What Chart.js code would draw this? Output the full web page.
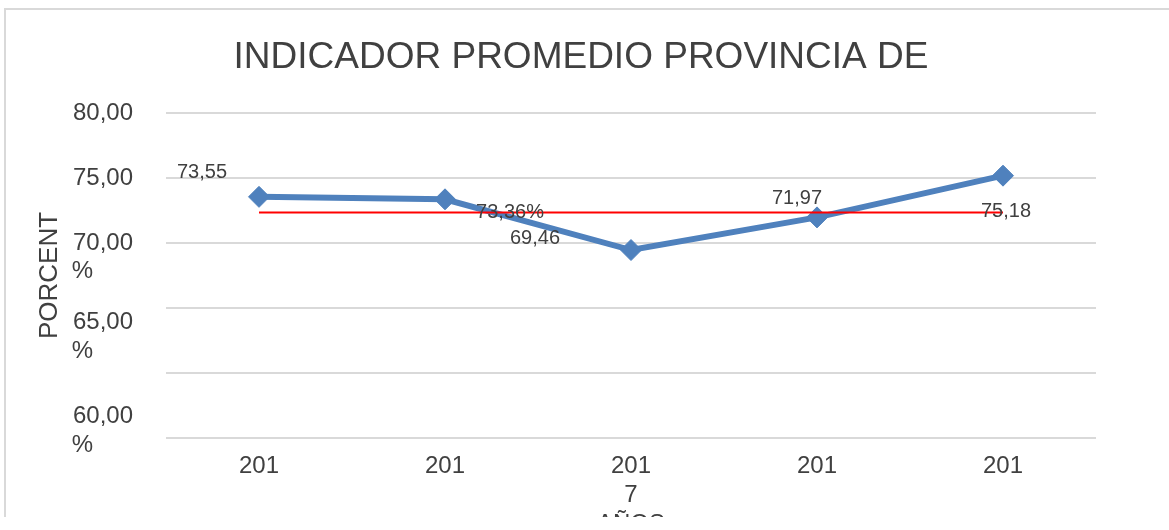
<!DOCTYPE html>
<html>
<head>
<meta charset="utf-8">
<script src="https://cdn.jsdelivr.net/npm/chart.js@4/dist/chart.umd.min.js"></script>
<style>
  body { margin: 0; background: #fff; }
  #frame {
    position: absolute; left: 4px; top: 8px;
    width: 1170px; height: 507px; overflow: hidden;
    border-top: 2px solid #d9d9d9; border-left: 2px solid #d9d9d9;
  }
  #box { position: relative; width: 1165px; height: 535px; }
</style>
</head>
<body>
<div id="frame"><div id="box"><canvas id="indicador"></canvas></div></div>
<script>
// datos
var years = ['201', '201', ['201', '7'], '201', '201'];
var indicador = [73.55, 73.36, 69.46, 71.97, 75.18];
var promedio = [72.35, 72.35, 72.35, 72.35, 72.35];
var dataLabels = ['73,55', '73,36%', '69,46', '71,97', '75,18'];
var yTickValues = [80, 75, 70, 65, 60, 55];
var yTickText = [
  ['80,00', ''],
  ['75,00', ''],
  ['70,00', '%'],
  ['', '65,00', '%'],
  ['', '', '', '60,00', '%'],
  ['', '']
];

// desplazamiento de cada etiqueta respecto a su punto (px)
var labelShift = [[-57, -24], [65, 13], [-96, -12], [-20, -19], [3, 36]];

var textColor = '#404040';
var fontFamily = '"Liberation Sans", Arial, sans-serif';

var etiquetas = {
  id: 'etiquetas',
  afterDatasetsDraw: function(chart) {
    var ctx = chart.ctx;
    var meta = chart.getDatasetMeta(1);
    ctx.save();
    ctx.font = '20px ' + fontFamily;
    ctx.fillStyle = textColor;
    ctx.textAlign = 'center';
    ctx.textBaseline = 'middle';
    meta.data.forEach(function(pt, i) {
      ctx.fillText(dataLabels[i], pt.x + labelShift[i][0], pt.y + labelShift[i][1]);
    });
    ctx.restore();
  }
};

var ctx = document.getElementById('indicador');
var chart = new Chart(ctx, {
  type: 'line',
  data: {
    labels: years,
    datasets: [
      {
        label: 'Promedio',
        data: promedio,
        borderColor: '#ff0000',
        borderWidth: 2,
        pointRadius: 0,
        fill: false,
        order: 0
      },
      {
        label: 'Indicador',
        data: indicador,
        borderColor: '#4f81bd',
        backgroundColor: '#4f81bd',
        borderWidth: 6,
        lineTension: 0,
        pointStyle: 'rectRot',
        pointRadius: 10.5,
        pointBorderWidth: 1,
        fill: false,
        order: 1
      }
    ]
  },
  options: {
    responsive: true,
    maintainAspectRatio: false,
    animation: false,
    layout: { padding: { top: 0, left: 0, right: 15, bottom: 6.6 } },
    plugins: {
      legend: { display: false },
      tooltip: { enabled: false },
      title: {
        display: true,
        text: 'INDICADOR PROMEDIO PROVINCIA DE',
        color: textColor,
        font: { family: fontFamily, size: 37, weight: 'normal' },
        padding: { top: 26, bottom: 32.6 }
      }
    },
    scales: {
      x: {
        offset: true,
        grid: { display: false, drawTicks: false },
        border: { display: false },
        ticks: {
          color: textColor,
          font: { family: fontFamily, size: 24 },
          padding: 14,
          maxRotation: 0,
          autoSkip: false
        },
        title: {
          display: true,
          text: 'AÑOS',
          color: textColor,
          font: { family: fontFamily, size: 24 },
          padding: { top: -14, bottom: 0 }
        }
      },
      y: {
        min: 55,
        max: 80,
        afterFit: function(scale) { scale.width = 160; },
        grid: { color: '#d9d9d9', lineWidth: 2, drawTicks: false },
        border: { display: false },
        ticks: {
          stepSize: 5,
          autoSkip: false,
          color: textColor,
          font: { family: fontFamily, size: 24 },
          padding: 33,
          labelOffset: 14.4,
          callback: function(value) {
            var i = yTickValues.indexOf(value);
            if (i < 0) return '';
            // el % queda alineado a la izquierda bajo el numero
            return yTickText[i].map(function(s) {
              return s === '%' ? s + '      ' : s;
            });
          }
        },
        title: {
          display: true,
          text: 'PORCENT',
          color: textColor,
          font: { family: fontFamily, size: 26 },
          padding: { top: 28.4, bottom: 0 }
        }
      },
      // eje vacio a la derecha: deja el titulo centrado en todo el ancho
      yRight: {
        position: 'right',
        display: true,
        afterFit: function(scale) { scale.width = 60; },
        grid: { display: false, drawTicks: false },
        border: { display: false },
        ticks: { display: false }
      }
    }
  },
  plugins: [etiquetas]
});
</script>
</body>
</html>
